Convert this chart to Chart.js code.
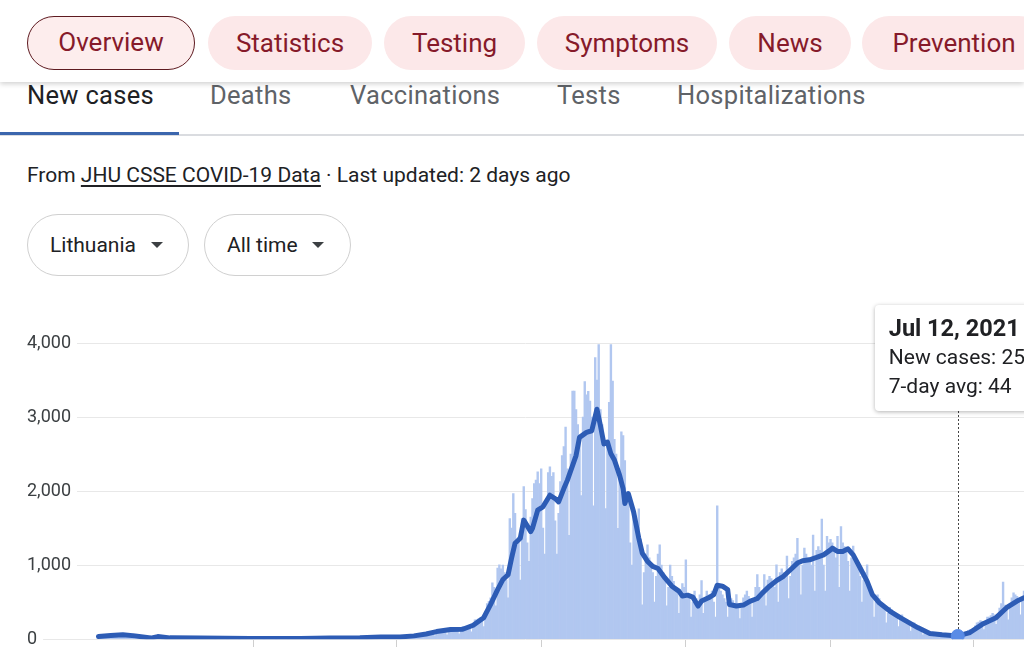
<!DOCTYPE html>
<html>
<head>
<meta charset="utf-8">
<script src="https://cdn.jsdelivr.net/npm/chart.js@4.4.1/dist/chart.umd.min.js"></script>
<style>
  html, body { margin: 0; padding: 0; width: 1024px; height: 647px; overflow: hidden; background: #fff; font-family: Roboto, Arial, sans-serif; color: #202124; }
  .header { position: absolute; left: 0; top: 0; width: 1024px; height: 82px; background: #fff; box-shadow: 0 2px 5px rgba(0,0,0,0.18); z-index: 3; }
  .chip { position: absolute; top: 16px; height: 54px; border-radius: 27px; background: #fce8e9; color: #861a2a; font-size: 26px; line-height: 54px; text-align: center; box-sizing: border-box; white-space: nowrap; }
  .chip.sel { border: 1.5px solid #5e1a20; line-height: 51px; background: #fdeded; }
  .tab { position: absolute; top: 80px; font-size: 25.5px; line-height: 30px; color: #5f6368; white-space: nowrap; letter-spacing: 0.3px; }
  .tab.on { color: #202124; }
  .tabline { position: absolute; left: 0; top: 134px; width: 1024px; height: 2px; background: #dadce0; }
  .tabbar { position: absolute; left: 0; top: 132px; width: 179px; height: 3px; background: #3b66ad; }
  .source { position: absolute; left: 27px; top: 161px; font-size: 21px; line-height: 28px; white-space: nowrap; }
  .source a { color: #202124; text-decoration: underline; text-underline-offset: 3px; }
  .dd { position: absolute; top: 214px; height: 62px; border: 1px solid #d0d0d0; border-radius: 31px; box-sizing: border-box; font-size: 21px; line-height: 60px; padding-left: 22px; white-space: nowrap; }
  .dd .caret { position: absolute; top: 27px; width: 0; height: 0; border-left: 6px solid transparent; border-right: 6px solid transparent; border-top: 6px solid #3c4043; }
  #wrap { position: absolute; left: 0; top: 300px; width: 1100px; height: 350px; }
  #tip { position: absolute; display: none; background: #fff; border-radius: 4px; box-shadow: 0 1px 4px rgba(0,0,0,0.3); padding: 9px 40px 10px 14px; font-size: 21px; line-height: 29px; white-space: nowrap; z-index: 4; }
  #tip .t { font-weight: bold; font-size: 23.5px; }
</style>
</head>
<body>
<div class="header">
  <div class="chip sel" style="left:27px;width:168px;">Overview</div>
  <div class="chip" style="left:208px;width:164px;">Statistics</div>
  <div class="chip" style="left:384px;width:141px;">Testing</div>
  <div class="chip" style="left:537px;width:180px;">Symptoms</div>
  <div class="chip" style="left:729px;width:122px;">News</div>
  <div class="chip" style="left:862px;width:184px;">Prevention</div>
</div>
<div class="tab on" style="left:27px;">New cases</div>
<div class="tab" style="left:210px;">Deaths</div>
<div class="tab" style="left:350px;">Vaccinations</div>
<div class="tab" style="left:557px;">Tests</div>
<div class="tab" style="left:677px;">Hospitalizations</div>
<div class="tabline"></div>
<div class="tabbar"></div>
<div class="source">From <a>JHU CSSE COVID-19 Data</a> · Last updated: 2 days ago</div>
<div class="dd" style="left:27px;width:162px;">Lithuania<span class="caret" style="left:123px;"></span></div>
<div class="dd" style="left:204px;width:147px;">All time<span class="caret" style="left:107px;"></span></div>
<div id="wrap"><canvas id="chart"></canvas></div>
<div id="tip"></div>

<script>
// Lithuania, daily new cases from 6 Mar 2020 (one value per day)
const startDate = Date.UTC(2020, 2, 6);
const newCases = [
  28, 40, 35, 44, 22, 38, 52,
  60, 55, 58, 50, 30, 48, 71,
  66, 63, 60, 57, 33, 50, 68,
  52, 48, 42, 38, 20, 28, 34,
  22, 14, 18, 16, 9, 26, 48,
  40, 30, 22, 18, 10, 14, 22,
  19, 17, 15, 14, 8, 12, 18,
  17, 16, 14, 12, 7, 11, 16,
  15, 14, 13, 12, 6, 10, 15,
  13, 12, 11, 10, 5, 9, 14,
  12, 11, 10, 10, 5, 8, 13,
  11, 10, 10, 9, 5, 8, 12,
  11, 10, 9, 9, 4, 8, 12,
  10, 10, 9, 9, 5, 8, 11,
  11, 10, 10, 9, 5, 8, 12,
  12, 11, 10, 9, 5, 9, 13,
  12, 11, 11, 10, 6, 9, 14,
  14, 13, 12, 11, 6, 10, 15,
  16, 15, 14, 13, 7, 12, 18,
  18, 17, 16, 14, 8, 13, 20,
  20, 19, 18, 16, 9, 15, 23,
  23, 22, 21, 19, 11, 17, 26,
  26, 25, 24, 21, 12, 19, 30,
  33, 31, 30, 27, 15, 24, 37,
  35, 33, 32, 29, 17, 26, 40,
  42, 40, 38, 35, 20, 31, 48,
  58, 56, 54, 49, 28, 44, 70,
  95, 92, 88, 80, 46, 71, 112,
  125, 120, 114, 104, 60, 95, 150,
  152, 147, 140, 127, 73, 115, 175,
  165, 170, 175, 172, 100, 165, 260,
  260, 275, 290, 285, 170, 300, 480,
  510, 560, 760, 700, 450, 961, 1005,
  950, 1000, 900, 800, 560, 1630, 1500,
  1966, 1700, 1300, 1380, 800, 1630, 2060,
  1750, 1300, 1050, 1650, 1900, 2100, 2150,
  2260, 2100, 2300, 1500, 1150, 1900, 2250,
  2328, 2200, 2250, 1600, 1150, 1700, 2127,
  2480, 2600, 2864, 2300, 1403, 2500, 3350,
  3350, 3100, 2900, 2700, 1940, 3000, 3480,
  3300, 3347, 3217, 3000, 1800, 3803, 3500,
  3978, 3100, 2900, 2700, 1765, 2600, 3200,
  3978, 3485, 2700, 2500, 1497, 2300, 2800,
  2750, 2413, 1993, 1850, 1300, 1000, 1765,
  1500, 1400, 1760, 1350, 465, 900, 1150,
  1273, 1100, 1000, 900, 500, 850, 1150,
  1273, 1000, 900, 800, 450, 700, 1000,
  850, 780, 700, 650, 350, 600, 750,
  700, 1072, 600, 550, 300, 500, 650,
  550, 500, 600, 791, 350, 500, 650,
  600, 550, 649, 500, 300, 1802, 700,
  650, 600, 550, 500, 300, 450, 550,
  520, 480, 603, 450, 280, 420, 560,
  600, 650, 580, 520, 300, 500, 700,
  871, 700, 650, 600, 871, 450, 800,
  850, 820, 780, 700, 1005, 500, 900,
  950, 900, 850, 1122, 550, 850, 1050,
  1100, 1150, 1363, 1000, 600, 1000, 1229,
  1150, 1100, 1050, 1000, 1407, 650, 1200,
  1250, 1200, 1622, 1000, 650, 1390, 1300,
  1350, 1300, 1250, 1100, 1390, 700, 1520,
  1300, 1250, 1200, 1050, 650, 1100, 1256,
  1100, 1000, 950, 850, 500, 800, 900,
  1005, 700, 600, 550, 300, 500, 600,
  550, 480, 450, 400, 220, 350, 430,
  400, 360, 340, 300, 170, 260, 330,
  280, 250, 230, 200, 110, 170, 220,
  170, 150, 130, 110, 60, 90, 110,
  90, 80, 70, 65, 35, 55, 75,
  70, 65, 60, 55, 30, 45, 62,
  58, 55, 50, 25, 30, 45, 60,
  85, 100, 120, 130, 80, 120, 180,
  220, 230, 250, 240, 130, 220, 300,
  300, 320, 350, 330, 200, 320, 420,
  480, 773, 460, 440, 260, 420, 560,
  626, 600, 580, 540, 330, 520, 650,
];

// 7-day average, traced at the days where the line bends
const avgDays = [
  0, 7, 14, 21, 30, 34, 41, 58, 87, 116, 133, 150, 162, 173, 181, 188, 194, 202, 209, 215,
  221, 225, 229, 232, 235, 237, 239, 242, 244, 248, 249, 252, 255, 259, 262, 264, 267, 269, 274, 276,
  280, 283, 286, 288, 290, 292, 294, 296, 299, 301, 302, 304, 307, 310, 312, 315, 318, 321, 325, 329,
  333, 335, 338, 341, 344, 346, 350, 353, 355, 358, 361, 362, 366, 370, 374, 378, 381, 385, 389, 393,
  397, 401, 404, 408, 412, 416, 420, 421, 424, 427, 430, 433, 437, 441, 444, 448, 454, 460, 470, 477,
  484, 493, 500, 507, 515, 521, 527, 531,
];
const avgValues = [
  36, 50, 60, 45, 15, 35, 18, 15, 10, 10, 15, 20, 30, 30, 45, 70, 103, 130, 134, 188,
  290, 470, 670, 805, 870, 1095, 1296, 1363, 1608, 1453, 1497, 1743, 1788, 1944, 1900, 1855, 2034, 2145, 2480, 2726,
  2793, 2815, 3106, 2882, 2637, 2663, 2503, 2420, 2212, 2034, 1832, 1966, 1721, 1363, 1162, 1050, 984, 955, 827, 716,
  649, 582, 595, 568, 448, 515, 559, 603, 729, 716, 670, 469, 448, 461, 515, 550, 626, 716, 791, 850,
  938, 1028, 1059, 1072, 1104, 1139, 1206, 1229, 1185, 1185, 1220, 1139, 961, 782, 603, 492, 380, 291, 157, 76,
  59, 44, 90, 201, 291, 425, 515, 559,
];

const yTicks = [0, 1000, 2000, 3000, 4000];
const xTickDays = [89, 171, 254, 337, 420, 502];
const hoverDay = 493;

const COLORS = {
  bar: '#b1c7f0',
  line: '#2d5cb5',
  point: '#5a8ce6',
  grid: '#e8e8e8',
  tick: '#cfcfcf',
  text: '#3c4043',
};

function fmtDate(day) {
  return new Date(startDate + day * 86400000).toLocaleDateString('en-US', { month: 'short', day: 'numeric', year: 'numeric', timeZone: 'UTC' });
}

// dotted guide from the tooltip down to the hovered point
const guideLine = {
  id: 'guideLine',
  afterDatasetsDraw(chart) {
    const act = chart.getActiveElements().find((a) => a.datasetIndex === 1);
    const tip = document.getElementById('tip');
    if (!act || tip.style.display === 'none') return;
    const wrapTop = document.getElementById('wrap').offsetTop;
    const top = tip.offsetTop + tip.offsetHeight - wrapTop;
    const { ctx } = chart;
    ctx.save();
    ctx.strokeStyle = '#444';
    ctx.lineWidth = 1;
    ctx.setLineDash([2, 2]);
    ctx.beginPath();
    ctx.moveTo(Math.round(act.element.x) + 0.5, top);
    ctx.lineTo(Math.round(act.element.x) + 0.5, act.element.y - 6);
    ctx.stroke();
    ctx.restore();
  },
};

function externalTip(context) {
  const { chart, tooltip } = context;
  const el = document.getElementById('tip');
  if (!tooltip.opacity || !tooltip.dataPoints || !tooltip.dataPoints.length) { el.style.display = 'none'; return; }
  const pt = tooltip.dataPoints.find((p) => p.datasetIndex === 1) || tooltip.dataPoints[0];
  const lines = tooltip.dataPoints
    .slice()
    .sort((a, b) => a.datasetIndex - b.datasetIndex)
    .map((p) => `<div>${p.dataset.label}: ${Number(p.parsed.y).toLocaleString('en-US')}</div>`)
    .join('');
  el.innerHTML = `<div class="t">${fmtDate(pt.parsed.x)}</div>${lines}`;
  const wrap = document.getElementById('wrap');
  el.style.display = 'block';
  el.style.left = (wrap.offsetLeft + pt.element.x - 83) + 'px';
  el.style.top = (wrap.offsetTop + chart.chartArea.top - 38) + 'px';
}

const chart = new Chart(document.getElementById('chart'), {
  type: 'bar',
  data: {
    datasets: [
      {
        type: 'bar',
        label: 'New cases',
        data: newCases.map((v, d) => ({ x: d, y: v })),
        backgroundColor: COLORS.bar,
        hoverBackgroundColor: COLORS.bar,
        categoryPercentage: 1,
        barPercentage: 1,
        order: 1,
      },
      {
        type: 'line',
        label: '7-day avg',
        data: avgDays.map((d, i) => ({ x: d, y: avgValues[i] })),
        borderColor: COLORS.line,
        borderWidth: 5,
        borderJoinStyle: 'round',
        borderCapStyle: 'round',
        tension: 0,
        pointRadius: 0,
        pointHoverRadius: 6.5,
        pointHoverBackgroundColor: COLORS.point,
        pointHoverBorderColor: COLORS.point,
        pointHoverBorderWidth: 1,
        order: 0,
      },
    ],
  },
  options: {
    responsive: true,
    maintainAspectRatio: false,
    animation: false,
    events: [],
    layout: { padding: { top: 43, right: 76, left: 27, bottom: 0 } },
    plugins: {
      legend: { display: false },
      tooltip: { enabled: false, external: externalTip },
    },
    scales: {
      x: {
        type: 'linear',
        offset: false,
        min: -41,
        max: 531,
        afterBuildTicks: (scale) => { scale.ticks = xTickDays.map((v) => ({ value: v })); },
        ticks: { display: false },
        grid: { offset: false, drawOnChartArea: false, drawTicks: true, tickLength: 8, color: COLORS.tick },
        border: { display: false },
      },
      y: {
        min: 0,
        max: 4000,
        afterBuildTicks: (scale) => { scale.ticks = yTicks.map((v) => ({ value: v })); },
        ticks: {
          mirror: true,
          padding: 0,
          color: COLORS.text,
          font: { family: 'Roboto', size: 18 },
          callback: (v) => Number(v).toLocaleString('en-US'),
          showLabelBackdrop: true,
          backdropColor: '#fff',
          backdropPadding: { top: 2, bottom: 2, left: 0, right: 6 },
        },
        grid: { color: COLORS.grid, drawTicks: false },
        border: { display: false },
      },
    },
  },
  plugins: [guideLine],
});

// hover state as in the screenshot: Jul 12, 2021
const lineIdx = avgDays.indexOf(hoverDay);
const active = [{ datasetIndex: 0, index: hoverDay }, { datasetIndex: 1, index: lineIdx }];
const p = chart.getDatasetMeta(1).data[lineIdx];
chart.tooltip.setActiveElements(active, { x: p.x, y: p.y });
chart.setActiveElements([{ datasetIndex: 1, index: lineIdx }]);
chart.update();
</script>
</body>
</html>
